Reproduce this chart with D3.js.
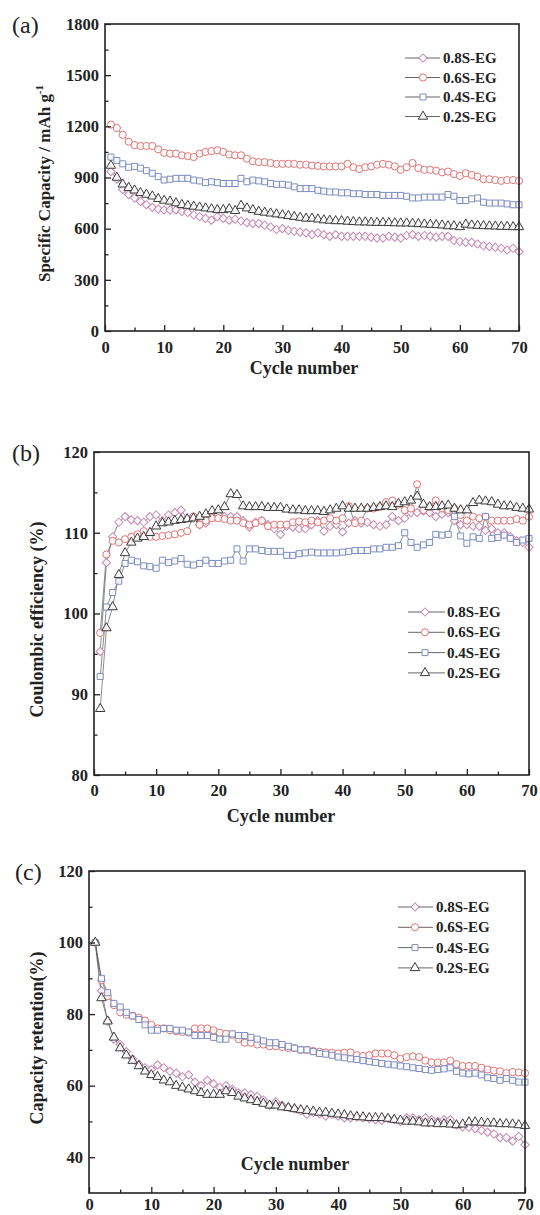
<!DOCTYPE html>
<html lang="en">
<head>
<meta charset="UTF-8">
<title>S-EG cycling performance</title>
<script src="https://d3js.org/d3.v7.min.js"></script>
<style>
  body { margin: 0; background: #fff; }
  svg { display: block; font-family: "Liberation Serif", "Times New Roman", serif; }
</style>
</head>
<body>
<script>
// ---- data ----
const cycles = d3.range(1, 71);
const seriesNames = ["0.8S-EG", "0.6S-EG", "0.4S-EG", "0.2S-EG"];

// (a) specific capacity, mAh/g
const capA08 = [935,890,830,800,780,760,740,725,715,710, 710,710,700,695,680,670,660,650,670,660,
  650,655,645,635,630,630,620,610,595,600, 590,585,580,575,565,575,565,555,565,555,
  555,555,555,555,550,545,545,555,550,545, 560,565,555,560,555,550,555,555,530,525,
  520,520,510,500,495,490,485,475,485,465];
const capA06 = [1210,1190,1150,1110,1090,1085,1085,1085,1065,1045, 1040,1040,1030,1025,1020,1040,1050,1055,1060,1050,
  1035,1030,1030,1010,995,990,990,985,980,980, 980,980,975,975,970,968,965,965,965,965,
  980,960,950,960,965,975,980,975,965,945, 960,985,955,945,945,940,930,935,920,910,
  925,915,905,890,890,885,880,885,885,880];
const capA04 = [1020,1000,980,960,965,955,940,925,905,885, 890,895,895,895,885,880,870,875,870,865,
  865,865,895,875,885,880,875,865,860,860, 855,845,835,835,835,825,820,815,815,810,
  810,805,805,800,800,800,795,795,795,795, 790,780,780,785,785,785,785,800,790,765,
  765,775,780,755,750,750,750,745,740,740];
const capA02 = [970,900,860,840,825,810,800,790,775,765, 760,750,740,735,730,725,720,715,710,710,
  715,705,735,720,710,700,695,690,685,680, 675,670,665,660,660,655,650,648,645,645,
  642,640,638,638,636,635,635,634,633,632, 632,630,628,626,624,622,620,615,615,610,
  625,620,618,616,615,614,612,612,610,610];

// (b) coulombic efficiency, %
const ceB08 = [95.3,106.3,109.5,111.3,112,111.6,111.5,111.3,112,112.2, 111.5,112.2,112.5,112.8,111.8,111.8,111,111.2,112,112.3,
  112,112,112,111.5,110.7,111.3,111.5,111,110.5,109.8, 110.8,110.7,110.5,110.5,111,111.5,110.2,110.8,111,110.1,
  111.2,111.5,111.2,111.3,111,110.8,111,112,111.5,111.8, 112.5,112.5,112.7,112.5,112,112.3,112.5,111.5,111,111,
  110.8,110.8,110.3,110.5,110,110,109.5,109,108.8,108.2];
const ceB06 = [97.6,107.3,109,108.8,109.2,109.5,109.8,110.2,109.5,109.5, 109.6,109.7,109.8,110,110.2,112,111,111.5,111.8,111.8,
  111.7,111.5,111.5,111.2,111,111.2,111.5,110.8,111,111, 111,111.3,111.4,111.3,111.5,111.3,111.5,111.8,111.5,111.8,
  113.3,111.2,111.5,113,113,113.2,113.8,114,113.5,112.8, 113,116,112.8,113.2,114,113,112.8,113,112.2,111.5,
  112,111.8,112,111.5,111.5,111.5,111.5,111.7,111.5,112];
const ceB04 = [92.2,100.8,102.6,104,106.2,106.6,106.4,105.9,105.8,105.6, 106.6,106.3,106.5,106.8,106.1,106,106.2,106.6,106.2,106.2,
  106.5,106.6,108,106.5,108,108,107.8,107.7,107.7,107.7, 107.2,107.2,107.4,107.5,107.6,107.5,107.5,107.5,107.5,107.6,
  107.7,107.8,107.8,107.8,108,108,108.2,108.2,108.4,110, 108.8,108.2,108.5,108.8,109.8,109.7,109.8,112,109.6,108.7,
  109.5,109.3,112,109.3,109.4,109.7,109.3,108.8,109.1,109.3];
const ceB02 = [88.2,98.2,100.8,104.8,107.5,108.8,109.3,109.5,110,110.8, 111.2,111.3,111.5,111.6,111.7,111.8,112,112.3,112.7,112.8,
  113.2,114.8,114.7,113.3,113.2,113.2,113.2,113.1,113.1,113.1, 112.9,112.8,112.8,112.7,112.7,112.7,112.6,112.8,113,113.3,
  113,113,113,113,113.1,113.2,113.3,113.2,113.6,113.8, 114,114.5,113.5,113.2,113.2,113.3,113.4,113,112.8,112.8,
  113.7,114,113.9,113.8,113.5,113.3,113.3,113.1,113,112.9];

// (c) capacity retention, %
const crC08 = [100,86.5,78,73,71.5,69.5,67.5,66,65,64.5, 65.8,65,64,63.5,62.5,63,61,60,61.5,60.5,
  59.5,60,59,58,58,57.5,57,56,54.5,55.5, 54.5,54,53.5,53,52,52.5,52.2,51.5,52,51.5,
  51,51,51.2,51,50.8,50.5,50.3,50.8,50.5,50, 51,51,50.5,51,50.5,50,50.5,50.5,49,48.5,
  48.3,48,47.5,47,46.5,45.5,45.5,44.5,45.8,43.5];
const crC06 = [100,89.5,85,82.5,80.5,79.8,79.5,79,78.2,77, 76,76,75.5,75.2,75,74.8,76,76,76,75.5,
  74.8,74.5,74.2,73,72,72,71.5,71.5,71,71, 70.8,70.5,70.5,70,70,69.7,69.5,69.3,69.2,69,
  69.2,69.3,68.5,68.3,68.5,69,69,69,68.5,67.5, 68,68.2,68,67,66.5,66.5,66.5,67,66,65.5,
  65.5,65.5,65,64.5,64.2,64,63.5,63.8,63.7,63.5];
const crC04 = [100,90,86,83,82,80.5,79.5,78.5,77,75.5, 75.5,76,76,75.5,75.5,75,74,74,74,73.5,
  73,73,74.5,74,74,73.5,73,72.5,72,72, 71.5,71,70.5,70,70,69.5,69,68.8,68.5,68,
  67.8,67.5,67.3,67,66.7,66.5,66.2,66,65.8,65.5, 65.3,65,64.8,64.5,64.3,64.5,64.7,65,64,63.5,
  63.3,63.5,63,62.2,62,61.5,62,61.5,61,61];
const crC02 = [100,84.5,78,73.5,70.5,68.5,67,65.5,64,63, 62.5,61.5,61,60,59.5,59,58.5,58,57.5,57.5,
  57.5,58.5,58,57,56.5,56,55.5,55,54.5,54.5, 54,53.8,53.5,53.2,53,52.8,52.5,52.5,52.2,52,
  51.8,51.5,51.3,51.2,51,51,51,50.8,50.5,50.3, 50,50,49.8,49.5,49.5,49.3,49.3,49.2,49,49.2,
  49.8,49.8,49.7,49.5,49.5,49.3,49.3,49.2,49,48.8];

const xTicks = [0, 10, 20, 30, 40, 50, 60, 70];
const xMinor = [5, 15, 25, 35, 45, 55, 65];

// ---- styling ----
const markerColor = ["#c68ab2", "#e07474", "#7d8cc0", "#3a3a3a"];
// diamond = square turned 45 degrees, like the original's open diamonds
const markerShape = [d3.symbolSquare, d3.symbolCircle, d3.symbolSquare, d3.symbolTriangle];
const markerTurn = [45, 0, 0, 0];
const markerSize = [34, 40, 36, 38];

const svg = d3.select("body").append("svg")
  .attr("width", 540)
  .attr("height", 1215);

const panels = [
  { tag: "(a)", tagX: 12, tagY: 33,
    box: { l: 105, r: 519, t: 24, b: 331 },
    yDomain: [0, 1800], yTicks: [0, 300, 600, 900, 1200, 1500, 1800],
    yMinor: [150, 450, 750, 1050, 1350, 1650],
    series: [capA08, capA06, capA04, capA02],
    yTitle: "Specific Capacity / mAh g", sup: "-1", yTitleX: 50, yTitleSize: 17,
    xTitleX: 304, xTitleY: 374, xPad: 10,
    legend: { x0: 405, y0: 58, dy: 19.5, lineW: 35, mark: 18, text: 38 } },
  { tag: "(b)", tagX: 12, tagY: 461,
    box: { l: 94, r: 529, t: 452, b: 775 },
    yDomain: [80, 120], yTicks: [80, 90, 100, 110, 120],
    yMinor: [85, 95, 105, 115],
    series: [ceB08, ceB06, ceB04, ceB02],
    yTitle: "Coulombic efficiency (%)", yTitleX: 43, yTitleSize: 18,
    xTitleX: 281, xTitleY: 822, xPad: 9,
    legend: { x0: 408, y0: 612, dy: 20.3, lineW: 37, mark: 17, text: 39 } },
  { tag: "(c)", tagX: 15, tagY: 880,
    box: { l: 89, r: 525, t: 871, b: 1193 },
    yDomain: [30, 120], yTicks: [40, 60, 80, 100, 120],
    yMinor: [50, 70, 90, 110],
    series: [crC08, crC06, crC04, crC02],
    yTitle: "Capacity retention(%)", yTitleX: 43, yTitleSize: 18,
    xTitleX: 295, xTitleY: 1170, xPad: 5,
    legend: { x0: 398, y0: 907, dy: 20.3, lineW: 35, mark: 17, text: 38 } }
];

function marker(i) {
  return d3.symbol().type(markerShape[i]).size(markerSize[i])();
}

panels.forEach(p => {
  const b = p.box;
  const x = d3.scaleLinear().domain([0, 70]).range([b.l, b.r]);
  const y = d3.scaleLinear().domain(p.yDomain).range([b.b, b.t]);
  const g = svg.append("g");

  // series: lines first, then open markers
  p.series.forEach((vals, i) => {
    const pts = cycles.map((c, k) => [c, vals[k]]);
    g.append("path")
      .datum(pts)
      .attr("fill", "none")
      .attr("stroke", "#5a5a5a")
      .attr("stroke-width", 0.7)
      .attr("d", d3.line().x(d => x(d[0])).y(d => y(d[1])));
  });
  p.series.forEach((vals, i) => {
    g.append("g").selectAll("path")
      .data(cycles.map((c, k) => [c, vals[k]]))
      .join("path")
      .attr("transform", d => `translate(${x(d[0])},${y(d[1])}) rotate(${markerTurn[i]})`)
      .attr("d", marker(i))
      .attr("fill", "#fff")
      .attr("fill-opacity", 0.85)
      .attr("stroke", markerColor[i])
      .attr("stroke-width", 1);
  });

  // axes, inward ticks
  const fmt = d3.format("d");
  const xAxis = d3.axisBottom(x).tickValues(xTicks).tickFormat(fmt).tickSizeInner(-6).tickSizeOuter(0).tickPadding(p.xPad);
  const xAxisMinor = d3.axisBottom(x).tickValues(xMinor).tickSizeInner(-3.5).tickSizeOuter(0).tickFormat("");
  const yAxis = d3.axisLeft(y).tickValues(p.yTicks).tickFormat(fmt).tickSizeInner(-6).tickSizeOuter(0).tickPadding(6);
  const yAxisMinor = d3.axisLeft(y).tickValues(p.yMinor).tickSizeInner(-3.5).tickSizeOuter(0).tickFormat("");

  [g.append("g").attr("transform", `translate(0,${b.b})`).call(xAxis),
   g.append("g").attr("transform", `translate(0,${b.b})`).call(xAxisMinor),
   g.append("g").attr("transform", `translate(${b.l},0)`).call(yAxis),
   g.append("g").attr("transform", `translate(${b.l},0)`).call(yAxisMinor)]
    .forEach(a => {
      a.attr("font-family", null);
      a.select(".domain").remove();
      a.selectAll(".tick line").attr("stroke", "#222").attr("stroke-width", 1.3);
      a.selectAll(".tick text")
        .attr("font-weight", "bold")
        .attr("font-size", 16.5)
        .attr("fill", "#222");
    });

  // frame
  g.append("rect")
    .attr("x", b.l).attr("y", b.t)
    .attr("width", b.r - b.l).attr("height", b.b - b.t)
    .attr("fill", "none").attr("stroke", "#222").attr("stroke-width", 1.6);

  // titles
  g.append("text")
    .attr("x", p.xTitleX).attr("y", p.xTitleY)
    .attr("text-anchor", "middle")
    .attr("font-weight", "bold").attr("font-size", 18).attr("fill", "#222")
    .text("Cycle number");

  const yt = g.append("text")
    .attr("transform", `translate(${p.yTitleX},${(b.t + b.b) / 2 + 6}) rotate(-90)`)
    .attr("text-anchor", "middle")
    .attr("font-weight", "bold").attr("font-size", p.yTitleSize).attr("fill", "#222")
    .text(p.yTitle);
  if (p.sup) {
    yt.append("tspan").attr("dy", -7).attr("font-size", 11).text(p.sup);
  }

  g.append("text")
    .attr("x", p.tagX).attr("y", p.tagY)
    .attr("font-size", 24).attr("fill", "#222")
    .text(p.tag);

  // legend
  const L = p.legend;
  seriesNames.forEach((name, i) => {
    const ly = L.y0 + i * L.dy;
    g.append("line")
      .attr("x1", L.x0).attr("x2", L.x0 + L.lineW)
      .attr("y1", ly).attr("y2", ly)
      .attr("stroke", "#666").attr("stroke-width", 1);
    g.append("path")
      .attr("transform", `translate(${L.x0 + L.mark},${ly}) rotate(${markerTurn[i]})`)
      .attr("d", marker(i))
      .attr("fill", "#fff")
      .attr("stroke", markerColor[i]).attr("stroke-width", 1);
    g.append("text")
      .attr("x", L.x0 + L.text).attr("y", ly + 5)
      .attr("font-weight", "bold").attr("font-size", 15).attr("fill", "#222")
      .text(name);
  });
});
</script>
</body>
</html>
